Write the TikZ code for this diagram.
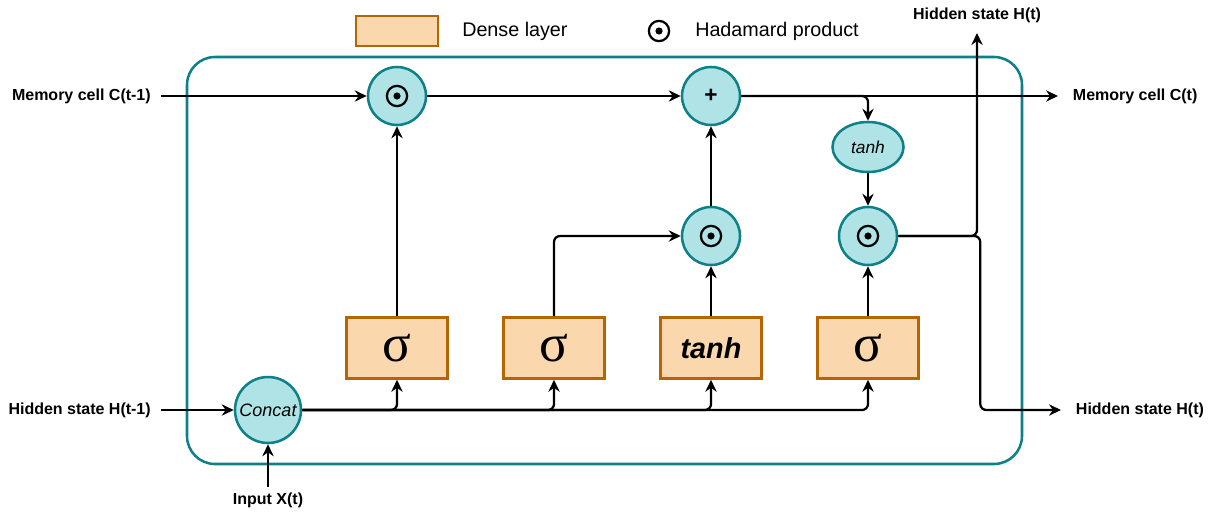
\documentclass[tikz,border=0pt]{standalone}
\usepackage{fontspec}
\setmainfont{Liberation Sans}
\newfontfamily\grecfont{Liberation Serif}
\usetikzlibrary{arrows.meta,shapes.geometric}
\definecolor{sarcelle}{HTML}{0E8088}
\definecolor{turquoise}{HTML}{B0E3E6}
\definecolor{ocre}{HTML}{B46504}
\definecolor{peche}{HTML}{FAD7AC}
\begin{document}
\begin{tikzpicture}[x=0.75pt,y=-0.75pt]
\tikzset{rond/.style={draw=sarcelle, fill=turquoise, circle, line width=1.9pt, inner sep=0pt, minimum size=43.5pt},
symb/.style={circle, inner sep=0pt, minimum size=22pt, path picture={\draw[black, line width=1.7pt] (path picture bounding box.center) circle (7.6pt); \fill[black] (path picture bounding box.center) circle (2.7pt);}},
hada/.style={rond, symb, minimum size=43.5pt},
couche/.style={draw=ocre, fill=peche, line width=1.9pt, minimum width=75.75pt, minimum height=45.75pt, inner sep=0pt},
sig/.style={couche, font=\grecfont\fontsize{40}{40}\selectfont},
etiq/.style={font=\fontsize{12}{13}\selectfont\bfseries, inner sep=7.5pt},
legende/.style={anchor=west, inner sep=0pt, font=\fontsize{14.8}{16}\selectfont},
fleche/.style={-{Stealth[length=9pt,width=8.5pt,inset=3pt]}, line width=1.7pt, rounded corners=4.5pt}}
\useasboundingbox (0,0) rectangle (1213,518);
\draw[sarcelle, line width=1.9pt, rounded corners=21pt] (187,57) rectangle (1022,464);
\node[couche, minimum width=61.5pt, minimum height=22.5pt] (LD) at (397,31) {};
\node[legende] (TD) at (462,31) {Dense layer};
\node[symb] (LH) at (659,31) {};
\node[legende] (TH) at (695,31) {Hadamard product};
\node[hada] (M1) at (397,96) {};
\node[rond, font=\fontsize{17}{17}\selectfont\bfseries] (A1) at (711,96) {+};
\node[hada] (M2) at (711,236) {};
\node[hada] (M3) at (868,236) {};
\node[rond, ellipse, minimum width=53.25pt, minimum height=37.5pt, font=\fontsize{13}{13}\selectfont\itshape] (TC) at (868,147) {tanh};
\node[rond, minimum size=49.5pt, font=\fontsize{13.5}{14}\selectfont\itshape] (K) at (268,410) {Concat};
\node[sig] (S1) at (397,348) {σ};
\node[sig] (S2) at (554,348) {σ};
\node[couche, font=\fontsize{21.6}{22}\selectfont\bfseries\itshape] (T1) at (711,348) {tanh};
\node[sig] (S3) at (868,348) {σ};
\node[etiq, anchor=east] (CE) at (161,96) {Memory cell C(t-1)};
\node[etiq, anchor=east] (HE) at (161,410) {Hidden state H(t-1)};
\node[etiq, anchor=north, inner ysep=4pt] (XE) at (268,487) {Input X(t)};
\node[etiq, anchor=west, inner xsep=11pt] (CS) at (1058,96) {Memory cell C(t)};
\node[etiq, anchor=west, inner xsep=11pt] (HS) at (1061,410) {Hidden state H(t)};
\node[etiq, anchor=south] (HH) at (977,33) {Hidden state H(t)};
\draw[fleche] (CE) -- (M1);
\draw[fleche] (M1) -- (A1);
\draw[fleche] (A1) -- (CS);
\draw[fleche] (A1.east) -| (TC.north);
\draw[fleche] (TC) -- (M3);
\draw[fleche] (M3.east) -| (HH.south);
\draw[fleche] (M3.east) -- ++(82,0) |- (HS.west);
\draw[fleche] (HE) -- (K);
\draw[fleche] (XE) -- (K);
\draw[fleche] (K.east) -| (S1.south);
\draw[fleche] (K.east) -| (S2.south);
\draw[fleche] (K.east) -| (T1.south);
\draw[fleche] (K.east) -| (S3.south);
\draw[fleche] (S1) -- (M1);
\draw[fleche] (S2.north) |- (M2.west);
\draw[fleche] (T1) -- (M2);
\draw[fleche] (M2) -- (A1);
\draw[fleche] (S3) -- (M3);
\end{tikzpicture}
\end{document}
